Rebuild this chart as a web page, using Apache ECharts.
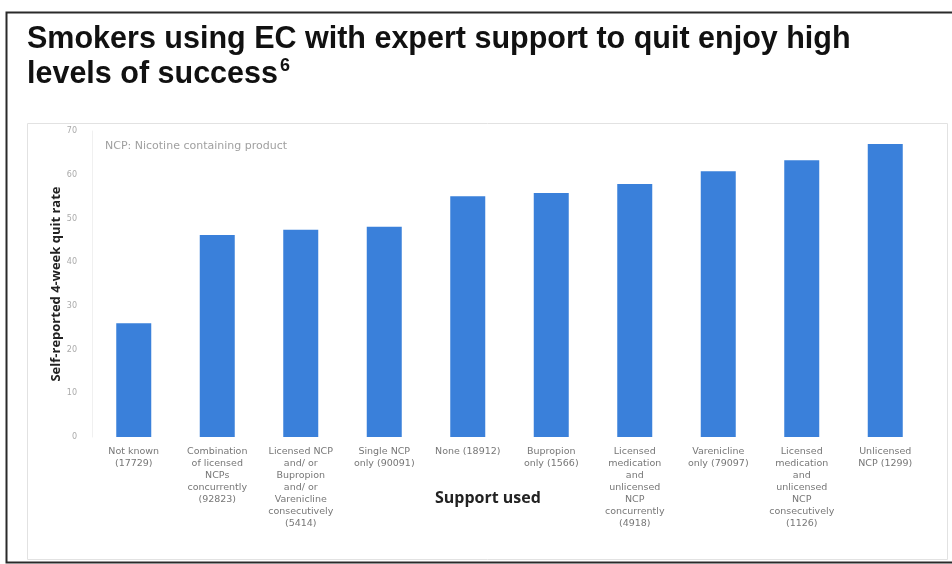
<!DOCTYPE html>
<html>
<head>
<meta charset="utf-8">
<script src="https://cdn.jsdelivr.net/npm/echarts@6/dist/echarts.min.js"></script>
<style>html,body{margin:0;padding:0;background:#fff}#c{width:952px;height:564px}</style>
</head>
<body>
<div id="c"></div>
<script>
var categories = [
  "Not known\n(17729)",
  "Combination\nof licensed\nNCPs\nconcurrently\n(92823)",
  "Licensed NCP\nand/ or\nBupropion\nand/ or\nVarenicline\nconsecutively\n(5414)",
  "Single NCP\nonly (90091)",
  "None (18912)",
  "Bupropion\nonly (1566)",
  "Licensed\nmedication\nand\nunlicensed\nNCP\nconcurrently\n(4918)",
  "Varenicline\nonly (79097)",
  "Licensed\nmedication\nand\nunlicensed\nNCP\nconsecutively\n(1126)",
  "Unlicensed\nNCP (1299)"
];
var quitRate = [26.0, 46.2, 47.4, 48.1, 55.1, 55.8, 57.9, 60.8, 63.3, 67.0];
var yTicks = [0, 10, 20, 30, 40, 50, 60, 70];

var chart = echarts.init(document.getElementById('c'), null, {renderer: 'canvas'});
chart.setOption({
  backgroundColor: '#fff',
  animation: false,
  graphic: [
    {type: 'rect', left: 4, top: 10, shape: {width: 960, height: 550}, style: {fill: 'none', stroke: '#2a2a2a', lineWidth: 2}, z: 0},
    {type: 'rect', left: 25, top: 121, shape: {width: 920, height: 436}, style: {fill: 'none', stroke: '#e2e2e2', lineWidth: 1}, z: 0},
    {type: 'text', left: 27, top: 24, style: {
      text: '{t|Smokers using EC with expert support to quit enjoy high}\n{t|levels of success}{s|6}',
      rich: {
        t: {fontFamily: 'Liberation Sans, Arial', fontWeight: 'bold', fontSize: 30.5, fill: '#111', lineHeight: 35},
        s: {fontFamily: 'Liberation Sans, Arial', fontWeight: 'bold', fontSize: 18, fill: '#111', verticalAlign: 'top', lineHeight: 35, padding: [0,0,16,2]}
      }
    }},
    {type: 'text', left: 105, top: 141, style: {text: 'NCP: Nicotine containing product', fontFamily: 'DejaVu Sans', fontSize: 11, fill: '#a0a0a0'}},
    {type: 'text', left: 435, top: 490, style: {text: 'Support used', fontFamily: 'Open Sans', fontWeight: 'bold', fontSize: 16, fill: '#222'}}
  ],
  grid: {left: 92, right: 25, top: 131, bottom: 127, containLabel: false},
  xAxis: {
    type: 'category',
    data: categories,
    axisLine: {show: false},
    axisTick: {show: false},
    axisLabel: {interval: 0, fontFamily: 'DejaVu Sans', fontSize: 9.5, color: '#777', lineHeight: 12, margin: 9}
  },
  yAxis: {
    type: 'value',
    min: 0, max: 70, interval: 10,
    name: 'Self-reported 4-week quit rate',
    nameLocation: 'middle',
    nameGap: 29,
    nameMoveOverlap: false,
    nameTextStyle: {fontFamily: 'Open Sans', fontWeight: 'bold', fontSize: 13, color: '#222'},
    axisLine: {show: true, lineStyle: {color: '#f0f0f0'}},
    axisTick: {show: false},
    splitLine: {show: false},
    axisLabel: {fontFamily: 'DejaVu Sans', fontSize: 8, color: '#aaa', margin: 15,
      formatter: function (v) { return yTicks.indexOf(v) >= 0 ? String(v) : ''; }}
  },
  series: [{
    type: 'bar',
    data: quitRate,
    barWidth: 35,
    itemStyle: {color: '#3a80da'}
  }]
});
</script>
</body>
</html>
